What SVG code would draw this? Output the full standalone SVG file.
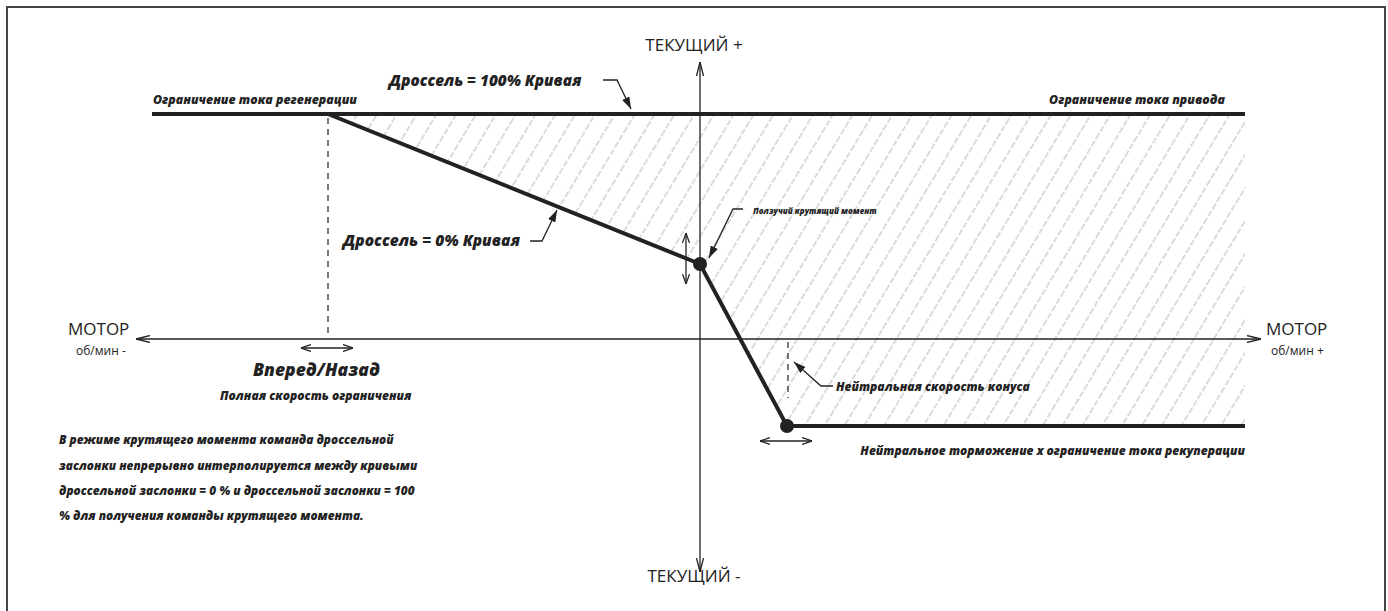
<svg xmlns="http://www.w3.org/2000/svg" width="1388" height="611" viewBox="0 0 1388 611">
<style>
.reg{font-family:"Open Sans","Noto Sans","DejaVu Sans",sans-serif;fill:#222}
.bi{font-family:"Open Sans","Noto Sans","DejaVu Sans",sans-serif;font-weight:800;font-style:italic;fill:#222}
.axis{stroke:#222;stroke-width:1.3;fill:none}
.thick{stroke:#222;stroke-width:4;fill:none}
.dash{stroke:#222;stroke-width:1.2;stroke-dasharray:6 5;fill:none}
.lead{stroke:#222;stroke-width:1.3;fill:none}
</style>
<defs>
<marker id="chev" viewBox="0 0 14 8" refX="14" refY="4" markerWidth="14" markerHeight="8" markerUnits="userSpaceOnUse" orient="auto-start-reverse">
<path d="M0,0.5 L14,4 L0,7.5" fill="none" stroke="#222" stroke-width="1.3"/>
</marker>
<marker id="chevs" viewBox="0 0 10 8" refX="10" refY="4" markerWidth="10" markerHeight="8" markerUnits="userSpaceOnUse" orient="auto-start-reverse">
<path d="M0,0.5 L10,4 L0,7.5" fill="none" stroke="#222" stroke-width="1.2"/>
</marker>
<marker id="tri" viewBox="0 0 12 8" refX="12" refY="4" markerWidth="12" markerHeight="8" markerUnits="userSpaceOnUse" orient="auto">
<path d="M0,0 L12,4 L0,8 Z" fill="#222"/>
</marker>
<pattern id="hatch" patternUnits="userSpaceOnUse" width="17" height="17" patternTransform="rotate(31)">
<line x1="8" y1="-2" x2="8" y2="19" stroke="#c8c8c8" stroke-width="1.3" stroke-dasharray="7 2"/>
</pattern>
</defs>
<rect x="7" y="7" width="1378" height="620" fill="#fff" stroke="#444" stroke-width="2"/>
<g id="hatch-region">
<polygon points="328,114 1245,114 1245,426 787,426 700,264" fill="url(#hatch)"/>
</g>
<g id="connectors">
<line class="axis" x1="700" y1="62" x2="700" y2="572" marker-start="url(#chev)" marker-end="url(#chev)"/>
<line class="axis" x1="136" y1="339" x2="1261" y2="339" marker-start="url(#chev)" marker-end="url(#chev)"/>
<line class="dash" x1="328" y1="118" x2="328" y2="338"/>
<line class="dash" x1="788" y1="342" x2="788" y2="398"/>
<line class="axis" x1="301" y1="348" x2="353" y2="348" marker-start="url(#chevs)" marker-end="url(#chevs)"/>
<line class="axis" x1="760" y1="441" x2="812" y2="441" marker-start="url(#chevs)" marker-end="url(#chevs)"/>
<line class="axis" x1="686" y1="233" x2="686" y2="284" marker-start="url(#chevs)" marker-end="url(#chevs)"/>
<path class="lead" d="M603,80 L617,80 L631,109" marker-end="url(#tri)"/>
<path class="lead" d="M530,241 L542,241 L557,210" marker-end="url(#tri)"/>
<path class="lead" d="M743,209 L733,209 L709,258" marker-end="url(#tri)"/>
<path class="lead" d="M833,386 L821,386 L794,362" marker-end="url(#tri)"/>
</g>
<g id="curve-100">
<line class="thick" x1="152" y1="114" x2="1245" y2="114"/>
</g>
<g id="curve-0">
<polyline class="thick" points="328,114 700,264 787,426 1245,426"/>
<circle cx="700" cy="264" r="7" fill="#222"/>
<circle cx="787" cy="426" r="7" fill="#222"/>
</g>
<g id="axis-labels">
<text class="reg" x="694" y="51" font-size="17" text-anchor="middle">ТЕКУЩИЙ +</text>
<text class="reg" x="694" y="582" font-size="17" text-anchor="middle">ТЕКУЩИЙ -</text>
<text class="reg" x="68" y="335" font-size="17">МОТОР</text>
<text class="reg" x="76" y="355" font-size="12">об/мин -</text>
<text class="reg" x="1266" y="335" font-size="17">МОТОР</text>
<text class="reg" x="1271" y="355" font-size="12">об/мин +</text>
</g>
<g id="labels">
<text class="bi" x="389" y="86" font-size="15.3">Дроссель = 100% Кривая</text>
<text class="bi" x="153" y="104" font-size="12.3">Ограничение тока регенерации</text>
<text class="bi" x="1225" y="104" font-size="12.3" text-anchor="end">Ограничение тока привода</text>
<text class="bi" x="343" y="246" font-size="15.5">Дроссель = 0% Кривая</text>
<text class="bi" x="753" y="214" font-size="8">Ползучий крутящий момент</text>
<text class="bi" x="253" y="376" font-size="17.5">Вперед/Назад</text>
<text class="bi" x="220" y="400" font-size="12">Полная скорость ограничения</text>
<text class="bi" x="836" y="391" font-size="12">Нейтральная скорость конуса</text>
<text class="bi" x="1245" y="455" font-size="12" text-anchor="end">Нейтральное торможение х ограничение тока рекуперации</text>
</g>
<g id="note">
<text class="bi" x="59" y="444" font-size="11.8">В режиме крутящего момента команда дроссельной</text>
<text class="bi" x="59" y="470" font-size="11.8">заслонки непрерывно интерполируется между кривыми</text>
<text class="bi" x="59" y="495" font-size="11.8">дроссельной заслонки = 0 % и дроссельной заслонки = 100</text>
<text class="bi" x="59" y="520" font-size="11.8">% для получения команды крутящего момента.</text>
</g>
</svg>
